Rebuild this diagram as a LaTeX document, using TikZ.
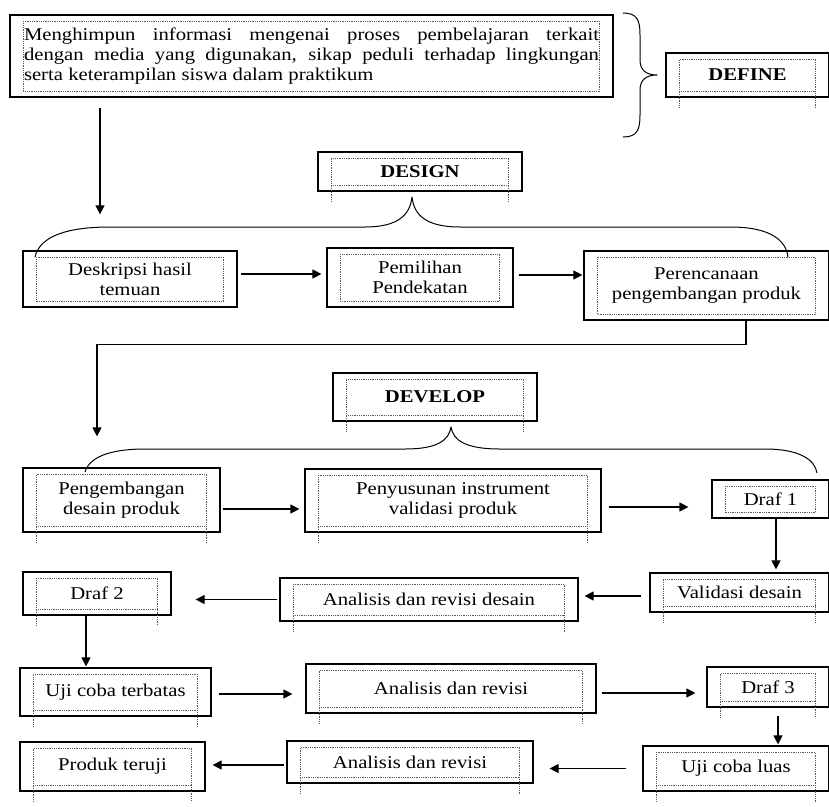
\documentclass[tikz,border=0pt]{standalone}
\usepackage{fontspec}
\setmainfont[FakeStretch=1.15]{Liberation Serif}
\usepackage{tikz}
\usetikzlibrary{calc, arrows.meta}

\begin{document}
\begin{tikzpicture}[x=1pt, y=-1pt]

    \tikzstyle{box}=[draw=black, line width=1.2pt, align=center, inner sep=0pt, font=\fontsize{18}{20}\selectfont];
    \tikzstyle{head}=[box, font=\fontsize{18}{20}\selectfont\bfseries];
    \tikzstyle{arr}=[line width=1.2pt, -{Triangle[length=9pt, width=9pt]}];
    \tikzstyle{brace}=[line width=1pt, line join=round];
    \tikzstyle{frame}=[densely dotted, gray!70!black, line width=0.8pt];

    \useasboundingbox (0,0) rectangle (829,806);

    \node[box, minimum width=603pt, minimum height=82pt, text width=575pt, align=justify] (info) at (311.5,56) {Menghimpun informasi mengenai proses pembelajaran terkait\linebreak dengan media yang digunakan, sikap peduli terhadap lingkungan\linebreak serta keterampilan siswa dalam praktikum};
    \node[head, minimum width=163pt, minimum height=44pt] (define) at (747.5,75) {DEFINE};
    \node[head, minimum width=204pt, minimum height=39pt] (design) at (420,171.5) {DESIGN};

    \node[box, minimum width=214pt, minimum height=56pt] (desk) at (130,279) {Deskripsi hasil\\temuan};
    \node[box, minimum width=186pt, minimum height=59pt] (pilih) at (420,277.5) {Pemilihan\\Pendekatan};
    \node[box, minimum width=245pt, minimum height=69pt] (renc) at (706.5,285.5) {Perencanaan\\pengembangan produk};

    \node[head, minimum width=204pt, minimum height=48pt] (develop) at (435,397) {DEVELOP};

    \node[box, minimum width=197pt, minimum height=64pt] (kembang) at (121.5,500) {Pengembangan\\desain produk};
    \node[box, minimum width=296pt, minimum height=63pt] (susun) at (453,500.5) {Penyusunan instrument\\validasi produk};
    \node[box, minimum width=117pt, minimum height=38pt] (draf1) at (770.5,499) {Draf 1};

    \node[box, minimum width=179pt, minimum height=39pt] (valid) at (739.5,592.5) {Validasi desain};
    \node[box, minimum width=298pt, minimum height=43pt] (anrev1) at (429,599.5) {Analisis dan revisi desain};
    \node[box, minimum width=148pt, minimum height=43pt] (draf2) at (97,593.5) {Draf 2};

    \node[box, minimum width=191pt, minimum height=48pt] (ujiterb) at (115.5,692) {Uji coba terbatas};
    \node[box, minimum width=290pt, minimum height=49pt] (anrev2) at (451,688.5) {Analisis dan revisi};
    \node[box, minimum width=122pt, minimum height=40pt] (draf3) at (768,687) {Draf 3};

    \node[box, minimum width=186pt, minimum height=45pt] (ujiluas) at (736,768.5) {Uji coba luas};
    \node[box, minimum width=246pt, minimum height=42pt] (anrev3) at (410,762) {Analisis dan revisi};
    \node[box, minimum width=185pt, minimum height=49pt] (produk) at (112.5,766.5) {Produk teruji};

    \foreach \n in {info, desk, pilih, renc, draf1}
        \draw[frame] ($(\n.north west)+(14,7)$) rectangle ($(\n.south east)+(-14,-6)$);
    \foreach \n in {define, design, develop, kembang, susun, valid, anrev1, draf2, ujiterb, anrev2, draf3, ujiluas, anrev3, produk}
        \draw[frame] ($(\n.south west)+(14,10)$) -- ($(\n.north west)+(14,7)$) -- ($(\n.north east)+(-14,7)$) -- ($(\n.south east)+(-14,10)$)
                     ($(\n.south west)+(14,-6)$) -- ($(\n.south east)+(-14,-6)$);

    \draw[brace] (623,13) .. controls (637,13) and (640,20) .. (640,35) -- (640,60) .. controls (640,70) and (646,75) .. (657,75) .. controls (646,75) and (640,80) .. (640,90) -- (640,115) .. controls (640,130) and (637,137) .. (623,137);
    \draw[brace] (35,257) .. controls (40,235) and (70,227) .. (110,227) -- (365,227) .. controls (398,227) and (410,215) .. (412,197) .. controls (414,215) and (426,227) .. (460,227) -- (730,227) .. controls (770,227) and (786,240) .. (788,257);
    \draw[brace] (85,472) .. controls (90,455) and (115,449) .. (145,449) -- (405,449) .. controls (438,449) and (449,440) .. (451,427) .. controls (453,440) and (465,449) .. (500,449) -- (765,449) .. controls (800,449) and (815,460) .. (817,473);

    \draw[arr, shorten <=10pt, shorten >=36pt] ([xshift=-211.5pt]info.south) -- ([xshift=-30pt]desk.north);
    \draw[arr, shorten <=3pt, shorten >=5pt] ([yshift=5pt]desk.east) -- ([yshift=5pt]desk.east -| pilih.west);
    \draw[arr, shorten <=5pt, shorten >=1pt] ([yshift=2.5pt]pilih.east) -- ([yshift=2.5pt]pilih.east -| renc.west);
    \draw[arr, shorten >=31pt] ([xshift=39.5pt]renc.south) -- ++(0,24) -| ([xshift=-24.5pt]kembang.north);

    \draw[arr, shorten <=2pt, shorten >=5pt] ([yshift=-9pt]kembang.east) -- ([yshift=-9pt]kembang.east -| susun.west);
    \draw[arr, shorten <=7pt, shorten >=23pt] ([yshift=-6.5pt]susun.east) -- ([yshift=-6.5pt]susun.east -| draf1.west);
    \draw[arr, shorten >=3pt] ([xshift=5.5pt]draf1.south) -- ([xshift=5.5pt]draf1.south |- valid.north);

    \draw[arr, shorten <=8pt, shorten >=6pt] ([yshift=-3.5pt]valid.west) -- ([yshift=-3.5pt]valid.west -| anrev1.east);
    \draw[arr, shorten <=2pt, shorten >=24pt] (anrev1.west) -- (anrev1.west -| draf2.east);
    \draw[arr, shorten >=1pt] ([xshift=-11pt]draf2.south) -- ([xshift=-11pt]draf2.south |- ujiterb.north);

    \draw[arr, shorten <=7pt, shorten >=13pt] ([yshift=-2pt]ujiterb.east) -- ([yshift=-2pt]ujiterb.east -| anrev2.west);
    \draw[arr, shorten <=5pt, shorten >=11pt] ([yshift=-4.5pt]anrev2.east) -- ([yshift=-4.5pt]anrev2.east -| draf3.west);
    \draw[arr, shorten <=8pt, shorten >=1pt] ([xshift=10pt]draf3.south) -- ([xshift=10pt]draf3.south |- ujiluas.north);

    \draw[arr, shorten <=16pt, shorten >=16pt] (ujiluas.west) -- (ujiluas.west -| anrev3.east);
    \draw[arr, shorten <=2pt, shorten >=7pt] ([yshift=-3pt]anrev3.west) -- ([yshift=-3pt]anrev3.west -| produk.east);
\end{tikzpicture}
\end{document}
